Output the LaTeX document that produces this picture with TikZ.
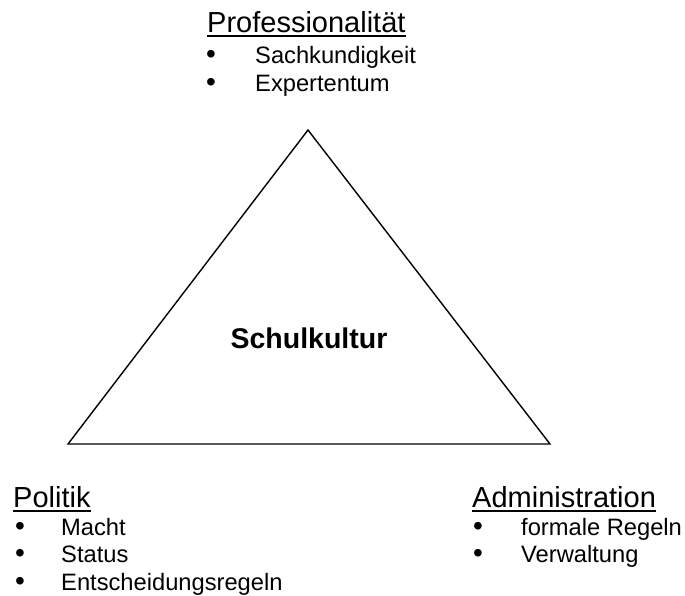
\documentclass[tikz,border=0pt]{standalone}
\usepackage{fontspec}
\setmainfont{Liberation Sans}
\begin{document}
\begin{tikzpicture}[x=1pt,y=-1pt,
  head/.style={inner sep=0pt,anchor=base west,font=\fontsize{29}{32}\selectfont},
  item/.style={inner sep=0pt,anchor=base west,font=\fontsize{23.7}{26}\selectfont},
  bul/.style={inner sep=0pt,anchor=base west,font=\fontsize{28}{30}\selectfont},
  uline/.style={line width=2pt},
  tri/.style={line width=1.4pt,line join=miter}]
\useasboundingbox (0,0) rectangle (685,595);
% triangle
\coordinate (top) at (308,130);
\coordinate (bl) at (68,444);
\coordinate (br) at (550,444);
\draw[tri] (top) -- (bl) -- (br) -- cycle;
\node[inner sep=0pt,anchor=base,font=\fontsize{28.5}{32}\selectfont\bfseries] (center) at (309,348) {Schulkultur};
% Professionalitaet
\node[head] (hp) at (207,32) {Professionalität};
\draw[uline] ([yshift=-3.5pt]hp.base west) -- ([yshift=-3.5pt]hp.base east);
\node[bul] (bp1) at (206,63) {•};
\node[item] (tp1) at (255,63) {Sachkundigkeit};
\node[bul] (bp2) at (206,91) {•};
\node[item] (tp2) at (255,91) {Expertentum};
% Politik
\node[head] (hl) at (13,507) {Politik};
\draw[uline] ([yshift=-3.5pt]hl.base west) -- ([yshift=-3.5pt]hl.base east);
\node[bul] (bl1) at (15,535) {•};
\node[item] (tl1) at (61,535) {Macht};
\node[bul] (bl2) at (15,562) {•};
\node[item] (tl2) at (61,562) {Status};
\node[bul] (bl3) at (15,590) {•};
\node[item] (tl3) at (61,590) {Entscheidungsregeln};
% Administration
\node[head] (ha) at (472,507) {Administration};
\draw[uline] ([yshift=-3.5pt]ha.base west) -- ([yshift=-3.5pt]ha.base east);
\node[bul] (ba1) at (473,535) {•};
\node[item] (ta1) at (521,535) {formale Regeln};
\node[bul] (ba2) at (473,562) {•};
\node[item] (ta2) at (521,562) {Verwaltung};
\end{tikzpicture}
\end{document}
